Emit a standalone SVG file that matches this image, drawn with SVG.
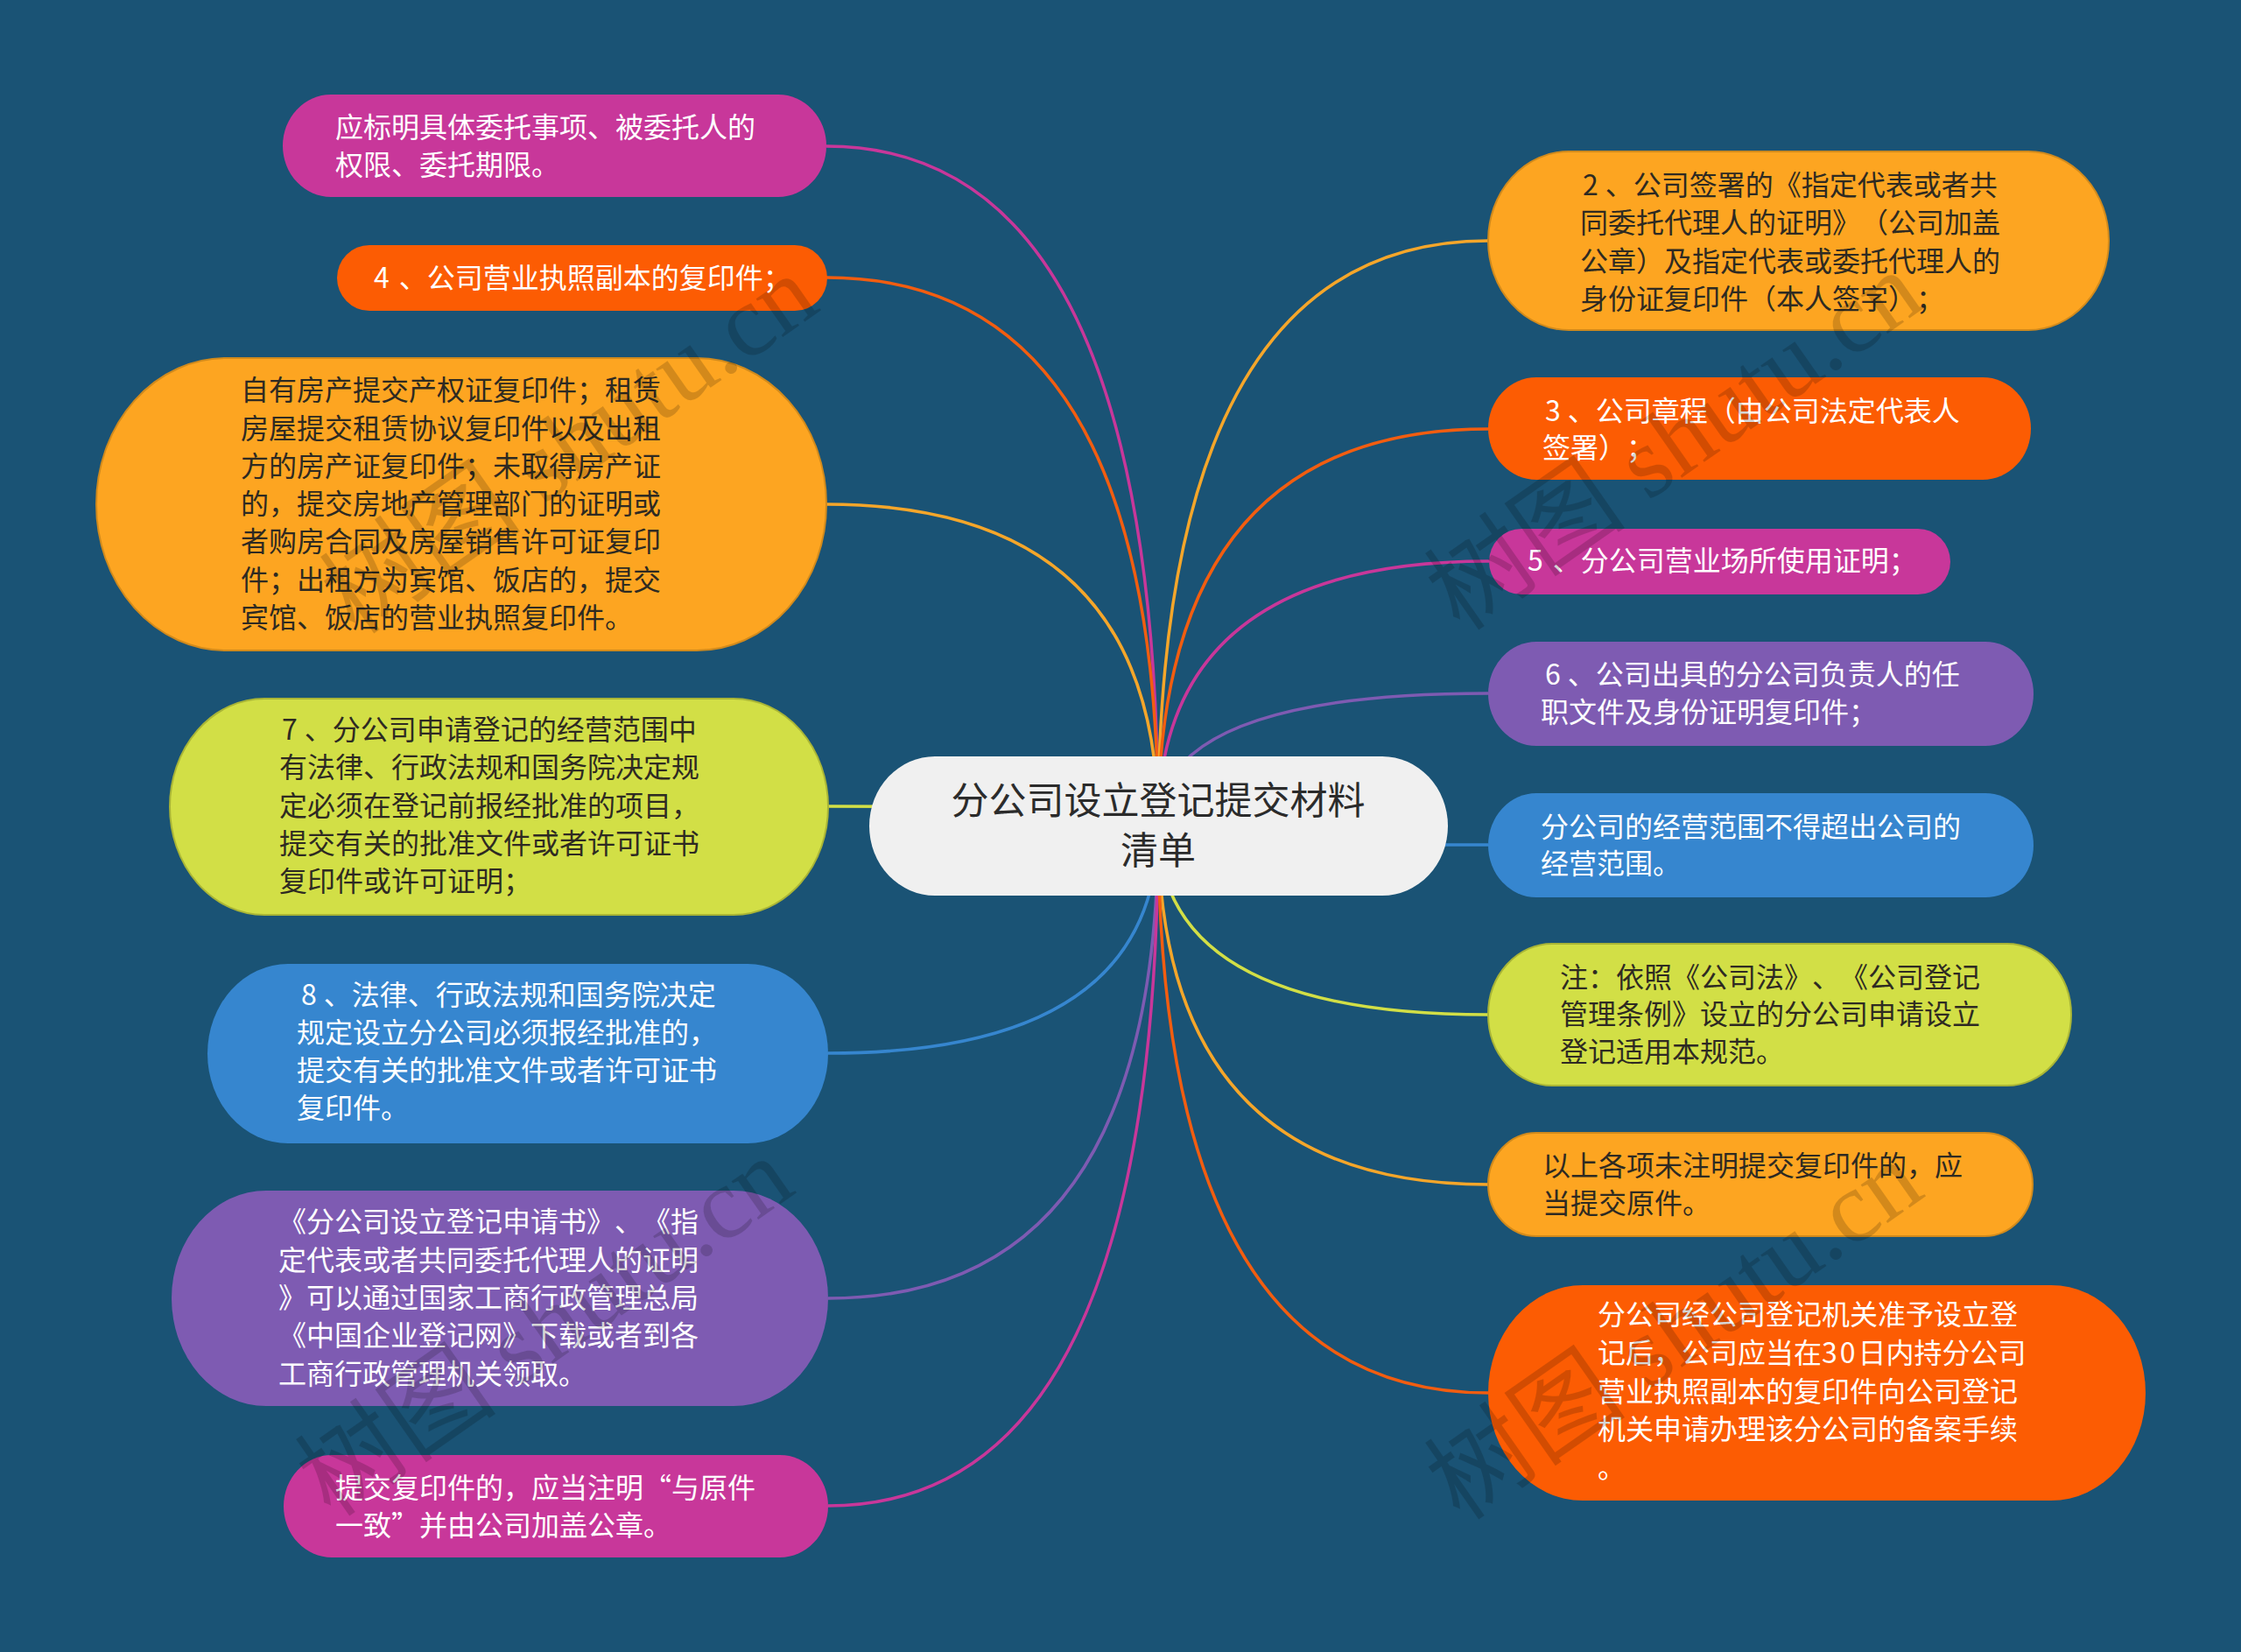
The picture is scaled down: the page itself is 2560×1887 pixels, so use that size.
<svg xmlns="http://www.w3.org/2000/svg" width="2560" height="1887" viewBox="0 0 2560 1887">
<style>
text{text-spacing-trim:space-all}
.t{font-family:"Noto Sans CJK SC","Noto Sans",sans-serif;font-size:32px}
.w{fill:#ffffff}
.d{fill:#2e2a22}
.c{stroke-width:3.5;fill:none}
.wm{font-family:"Liberation Serif","Noto Sans CJK SC",serif;font-size:116px;fill:#000;opacity:0.16}
</style>
<rect x="0" y="0" width="2560" height="1887" fill="#1a5375"/>
<g id="connectors">
<path class="c" stroke="#c8379a" d="M1323,943 Q1323,167 944,167"/>
<path class="c" stroke="#f25d10" d="M1323,943 Q1323,317 944,317"/>
<path class="c" stroke="#f5a62a" d="M1323,943 Q1323,576 944,576"/>
<path class="c" stroke="#d2df46" d="M1323,943 Q1323,921 946,921"/>
<path class="c" stroke="#3686cf" d="M1323,943 Q1323,1203 946,1203"/>
<path class="c" stroke="#7e5bb2" d="M1323,943 Q1323,1483 946,1483"/>
<path class="c" stroke="#c8379a" d="M1323,943 Q1323,1720 946,1720"/>
<path class="c" stroke="#f5a62a" d="M1323,943 Q1323,275 1700,275"/>
<path class="c" stroke="#f25d10" d="M1323,943 Q1323,490 1700,490"/>
<path class="c" stroke="#c8379a" d="M1323,943 Q1323,641 1701,641"/>
<path class="c" stroke="#7e5bb2" d="M1323,943 Q1323,792 1700,792"/>
<path class="c" stroke="#3686cf" d="M1323,943 Q1323,965 1700,965"/>
<path class="c" stroke="#d2df46" d="M1323,943 Q1323,1159 1700,1159"/>
<path class="c" stroke="#f5a62a" d="M1323,943 Q1323,1353 1700,1353"/>
<path class="c" stroke="#f25d10" d="M1323,943 Q1323,1591 1700,1591"/>
</g>
<g id="center">
<rect x="993" y="864" width="661" height="159" rx="75" ry="79.5" fill="#f0f0f0"/>
<text x="1323" y="930" text-anchor="middle" font-family="Noto Sans CJK SC, sans-serif" font-size="43" fill="#2b2b2b">分公司设立登记提交材料</text>
<text x="1323" y="987" text-anchor="middle" font-family="Noto Sans CJK SC, sans-serif" font-size="43" fill="#2b2b2b">清单</text>
</g>
<g id="L1">
<rect x="323" y="108" width="621" height="117" rx="55" ry="58.5" fill="#c8379a"/>
<text class="t w" x="383" y="157">应标明具体委托事项、被委托人的</text>
<text class="t w" x="383" y="200">权限、委托期限。</text>
</g>
<g id="L2">
<rect x="385" y="280" width="560" height="75" rx="37" ry="37.5" fill="#fc5c03"/>
<text class="t w" x="427" y="329">4<tspan dx="11">、公司营业执照副本的复印件；</tspan></text>
</g>
<g id="L3">
<rect x="110" y="409" width="834" height="334" rx="148" ry="167" fill="#fda521" stroke="#d18a1c" stroke-width="2"/>
<text class="t d" x="275" y="457">自有房产提交产权证复印件；租赁</text>
<text class="t d" x="275" y="500.5">房屋提交租赁协议复印件以及出租</text>
<text class="t d" x="275" y="544">方的房产证复印件；未取得房产证</text>
<text class="t d" x="275" y="587">的，提交房地产管理部门的证明或</text>
<text class="t d" x="275" y="630">者购房合同及房屋销售许可证复印</text>
<text class="t d" x="275" y="673.5">件；出租方为宾馆、饭店的，提交</text>
<text class="t d" x="275" y="717">宾馆、饭店的营业执照复印件。</text>
</g>
<g id="L4">
<rect x="194" y="798" width="752" height="247" rx="108" ry="123.5" fill="#d2df46" stroke="#a9b536" stroke-width="2"/>
<text class="t d" x="322" y="845">7<tspan dx="8">、分公司申请登记的经营范围中</tspan></text>
<text class="t d" x="319" y="888">有法律、行政法规和国务院决定规</text>
<text class="t d" x="319" y="932">定必须在登记前报经批准的项目，</text>
<text class="t d" x="319" y="975">提交有关的批准文件或者许可证书</text>
<text class="t d" x="319" y="1018">复印件或许可证明；</text>
</g>
<g id="L5">
<rect x="237" y="1101" width="709" height="205" rx="92" ry="102.5" fill="#3686cf"/>
<text class="t w" x="344" y="1148">8<tspan dx="8">、法律、行政法规和国务院决定</tspan></text>
<text class="t w" x="339" y="1191">规定设立分公司必须报经批准的，</text>
<text class="t w" x="339" y="1234">提交有关的批准文件或者许可证书</text>
<text class="t w" x="339" y="1277">复印件。</text>
</g>
<g id="L6">
<rect x="196" y="1360" width="750" height="246" rx="108" ry="123" fill="#7e5bb2"/>
<text class="t w" x="318" y="1407">《分公司设立登记申请书》、《指</text>
<text class="t w" x="318" y="1451">定代表或者共同委托代理人的证明</text>
<text class="t w" x="318" y="1494">》可以通过国家工商行政管理总局</text>
<text class="t w" x="318" y="1537">《中国企业登记网》下载或者到各</text>
<text class="t w" x="318" y="1581">工商行政管理机关领取。</text>
</g>
<g id="L7">
<rect x="324" y="1662" width="622" height="117" rx="55" ry="58.5" fill="#c8379a"/>
<text class="t w" x="383" y="1711">提交复印件的，应当注明“与原件</text>
<text class="t w" x="383" y="1754">一致”并由公司加盖公章。</text>
</g>
<g id="R1">
<rect x="1700" y="173" width="709" height="204" rx="92" ry="102" fill="#fda521" stroke="#d18a1c" stroke-width="2"/>
<text class="t d" x="1808" y="223">2<tspan dx="8">、公司签署的《指定代表或者共</tspan></text>
<text class="t d" x="1805" y="266">同委托代理人的证明》（公司加盖</text>
<text class="t d" x="1805" y="310">公章）及指定代表或委托代理人的</text>
<text class="t d" x="1805" y="353">身份证复印件（本人签字）；</text>
</g>
<g id="R2">
<rect x="1700" y="431" width="620" height="117" rx="55" ry="58.5" fill="#fc5c03"/>
<text class="t w" x="1765" y="481">3<tspan dx="8">、公司章程（由公司法定代表人</tspan></text>
<text class="t w" x="1762" y="523">签署）；</text>
</g>
<g id="R3">
<rect x="1701" y="604" width="527" height="75" rx="37" ry="37.5" fill="#c8379a"/>
<text class="t w" x="1745" y="652">5<tspan dx="11">、分公司营业场所使用证明；</tspan></text>
</g>
<g id="R4">
<rect x="1700" y="733" width="623" height="119" rx="55" ry="59.5" fill="#7e5bb2"/>
<text class="t w" x="1765" y="782">6<tspan dx="8">、公司出具的分公司负责人的任</tspan></text>
<text class="t w" x="1760" y="825">职文件及身份证明复印件；</text>
</g>
<g id="R5">
<rect x="1700" y="906" width="623" height="119" rx="55" ry="59.5" fill="#3686cf"/>
<text class="t w" x="1760" y="956">分公司的经营范围不得超出公司的</text>
<text class="t w" x="1760" y="998">经营范围。</text>
</g>
<g id="R6">
<rect x="1700" y="1078" width="666" height="162" rx="73" ry="81" fill="#d2df46" stroke="#a9b536" stroke-width="2"/>
<text class="t d" x="1782" y="1128">注：依照《公司法》、《公司登记</text>
<text class="t d" x="1782" y="1170">管理条例》设立的分公司申请设立</text>
<text class="t d" x="1782" y="1213">登记适用本规范。</text>
</g>
<g id="R7">
<rect x="1700" y="1294" width="622" height="118" rx="55" ry="59" fill="#fda521" stroke="#d18a1c" stroke-width="2"/>
<text class="t d" x="1762" y="1343">以上各项未注明提交复印件的，应</text>
<text class="t d" x="1762" y="1386">当提交原件。</text>
</g>
<g id="R8">
<rect x="1700" y="1468" width="751" height="246" rx="108" ry="123" fill="#fc5c03"/>
<text class="t w" x="1825" y="1513">分公司经公司登记机关准予设立登</text>
<text class="t w" x="1825" y="1557">记后，公司应当在3<tspan dx="3">0</tspan><tspan dx="3">日内持分公司</tspan></text>
<text class="t w" x="1825" y="1601">营业执照副本的复印件向公司登记</text>
<text class="t w" x="1825" y="1644">机关申请办理该分公司的备案手续</text>
<text class="t w" x="1825" y="1688">。</text>
</g>
<g id="watermarks">
<text class="wm" x="673" y="540" text-anchor="middle" transform="rotate(-35 673 540)">树图 shutu.cn</text>
<text class="wm" x="1935" y="536" text-anchor="middle" transform="rotate(-35 1935 536)">树图 shutu.cn</text>
<text class="wm" x="645" y="1548" text-anchor="middle" transform="rotate(-35 645 1548)">树图 shutu.cn</text>
<text class="wm" x="1935" y="1552" text-anchor="middle" transform="rotate(-35 1935 1552)">树图 shutu.cn</text>
</g>
</svg>
